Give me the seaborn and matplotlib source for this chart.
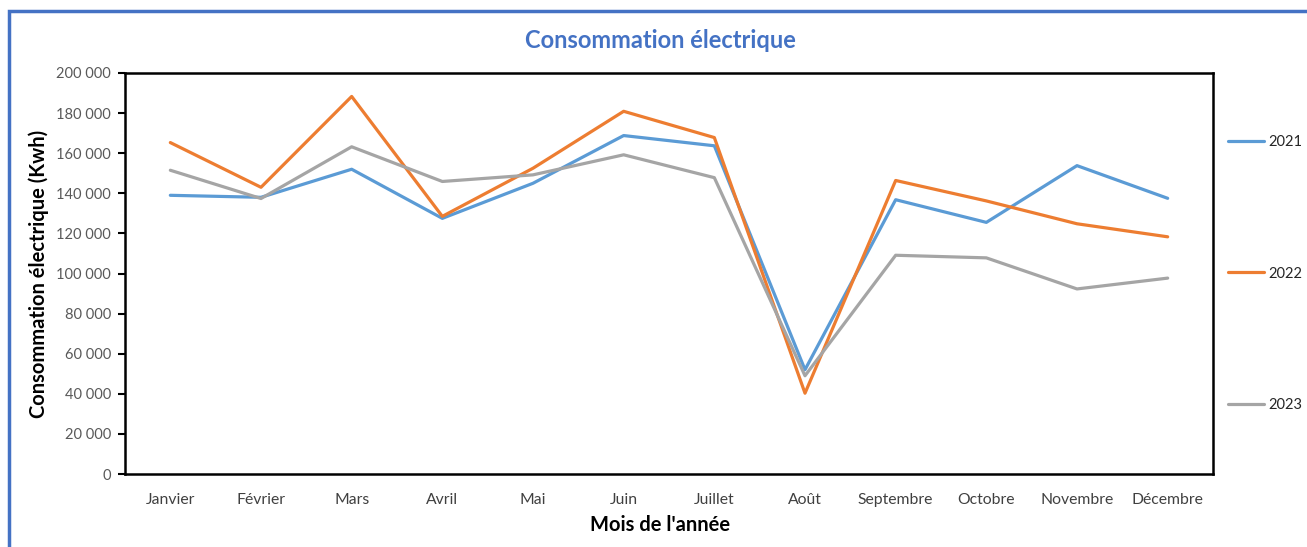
import matplotlib
matplotlib.use("Agg")
import matplotlib.pyplot as plt
from matplotlib.patches import Rectangle
from matplotlib.ticker import FuncFormatter
import pandas as pd
import seaborn as sns

# Data
mois = ["Janvier", "Février", "Mars", "Avril", "Mai", "Juin", "Juillet",
        "Août", "Septembre", "Octobre", "Novembre", "Décembre"]
conso_2021 = [139000, 138000, 152000, 127500, 145000, 168800, 163700,
              52000, 136800, 125500, 153800, 137500]
conso_2022 = [165300, 143000, 188300, 128500, 152500, 180900, 167800,
              40300, 146400, 136200, 124800, 118300]
conso_2023 = [151500, 137400, 163200, 145900, 149200, 159200, 147800,
              49000, 109100, 107800, 92300, 97700]
annees = ["2021", "2022", "2023"]
couleurs = ["#5B9BD5", "#ED7D31", "#A5A5A5"]

df = pd.DataFrame({
    "Mois": mois * 3,
    "Conso": conso_2021 + conso_2022 + conso_2023,
    "Année": [a for a in annees for _ in mois],
})

sns.set_theme(style="white")
plt.rcParams["font.family"] = ["Lato", "DejaVu Sans"]

fig = plt.figure(figsize=(13.07, 5.47), dpi=100)
ax = fig.add_axes([125 / 1307, 1 - 474 / 547, (1213 - 125) / 1307, (474 - 73) / 547])

sns.lineplot(data=df, x="Mois", y="Conso", hue="Année", palette=couleurs,
             linewidth=2.3, sort=False, ax=ax)

ax.set_xlim(-0.5, 11.5)
ax.set_ylim(0, 200000)
ax.set_yticks(range(0, 200001, 20000))
ax.yaxis.set_major_formatter(FuncFormatter(lambda v, p: f"{int(v):,}".replace(",", " ")))

for s in ax.spines.values():
    s.set_color("black")
    s.set_linewidth(1.8)

ax.tick_params(axis="y", which="major", left=True, length=5, width=1.5,
               direction="out", color="black", labelsize=10.5,
               labelcolor="#595959", pad=5)
ax.tick_params(axis="x", bottom=False, labelsize=11.3, labelcolor="#404040", pad=8)

ax.set_xlabel("Mois de l'année", fontsize=14.5, fontweight="bold", color="black")
ax.set_ylabel("Consommation électrique (Kwh)", fontsize=14.5, fontweight="bold",
              color="black")
ax.xaxis.label.set_va("center")
ax.yaxis.label.set_va("center")
ax.xaxis.set_label_coords(0.5 - 9 / 1088, (474 - 525) / 401)
ax.yaxis.set_label_coords((39 - 125) / 1088, 0.5)

fig.text(660 / 1307, 1 - 41 / 547, "Consommation électrique", ha="center", va="center",
         fontsize=17, fontweight="bold", color="#4472C4")

handles, labels = ax.get_legend_handles_labels()
ax.legend(handles, labels, loc="center left", bbox_to_anchor=(1.0, 0.5),
          frameon=False, fontsize=10.5, labelspacing=8.05, handlelength=2.5,
          handletextpad=0.3, borderaxespad=0.6)

# blue chart border (Excel chart area outline)
fig.patches.append(Rectangle((9 / 1307, -0.2), 1.5, 1 - 11 / 547 + 0.2,
                             transform=fig.transFigure, fill=False,
                             edgecolor="#4472C4", linewidth=2.5))

fig.savefig("out.png", dpi=100)
